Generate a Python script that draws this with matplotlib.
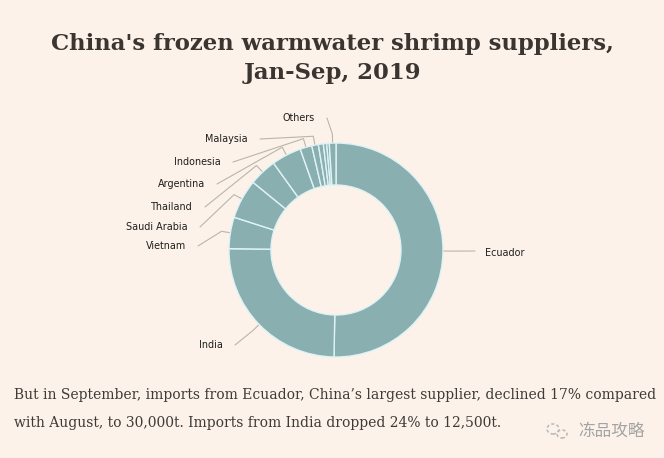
import matplotlib
matplotlib.use('Agg')
import matplotlib.pyplot as plt
from matplotlib.patches import Ellipse
import numpy as np

# ---- data (approx. share of imports %) ----
categories = ['Ecuador', 'India', 'Vietnam', 'Saudi Arabia', 'Thailand', 'Argentina',
              'Indonesia', 'Malaysia', '', '', '', 'Others']
shares = [50.3, 24.9, 4.75, 5.94, 4.19, 4.5, 1.78, 1.0, 0.75, 0.5, 0.39, 1.0]

title_lines = ["China's frozen warmwater shrimp suppliers,", "Jan-Sep, 2019"]
body_lines = ["But in September, imports from Ecuador, China\u2019s largest supplier, declined 17% compared",
              "with August, to 30,000t. Imports from India dropped 24% to 12,500t."]
watermark = '冻品攻略'

# ---- layout / style ----
W, H = 664, 458
BG = '#fcf2e9'
TEAL = '#89afb0'
SEP = '#dff3f6'
LINE = '#b9b6ad'

def Y(y):
    return H - y

# label line end points (pixel layout, y measured from top) and side
label_layout = {
    'Ecuador': (475, 251, 'right'),
    'India': (235, 345, 'left'),
    'Vietnam': (198, 246, 'left'),
    'Saudi Arabia': (200, 227, 'left'),
    'Thailand': (205, 207, 'left'),
    'Argentina': (217, 184, 'left'),
    'Indonesia': (233, 162, 'left'),
    'Malaysia': (260, 139, 'left'),
    'Others': (327, 118, 'left'),
}

fig = plt.figure(figsize=(W / 100, H / 100), dpi=100, facecolor=BG)
ax = fig.add_axes([0, 0, 1, 1])
ax.set_facecolor(BG)

cx, cy, R, ring = 336, Y(250), 107, 42
ax.pie(shares, radius=R, center=(cx, cy), startangle=90, counterclock=False,
       colors=[TEAL] * len(shares),
       wedgeprops=dict(width=ring, edgecolor=SEP, linewidth=1.0))

vals = np.array(shares, dtype=float)
start = np.concatenate([[0], np.cumsum(vals)[:-1]])
mid = (start + vals / 2) / vals.sum() * 2 * np.pi

for name, ang in zip(categories, mid):
    if not name:
        continue
    sx, sy = np.sin(ang), np.cos(ang)
    p0 = (cx + (R + 1) * sx, cy + (R + 1) * sy)
    p1 = (cx + (R + 9) * sx, cy + (R + 9) * sy)
    ex, ey, side = label_layout[name]
    ey = Y(ey)
    ax.plot([p0[0], p1[0], ex], [p0[1], p1[1], ey], color=LINE, lw=0.8,
            solid_capstyle='round', solid_joinstyle='round')
    if side == 'left':
        ax.text(ex - 12, ey, name, ha='right', va='center', fontsize=6.9,
                color='#1e1e1e', family='DejaVu Sans')
    else:
        ax.text(ex + 10, ey - 2, name, ha='left', va='center', fontsize=6.9,
                color='#1e1e1e', family='DejaVu Sans')

ax.set_xlim(0, W)
ax.set_ylim(0, H)
ax.set_aspect('auto')
ax.axis('off')

# title
ax.text(332, Y(44), title_lines[0], ha='center', va='center', fontsize=16.4,
        family='DejaVu Serif', weight='bold', color='#3a3531')
ax.text(332, Y(73), title_lines[1], ha='center', va='center', fontsize=16.4,
        family='DejaVu Serif', weight='bold', color='#3a3531')

# body text
ax.text(14, Y(395), body_lines[0], ha='left', va='center', fontsize=10.0,
        family='DejaVu Serif', color='#3e3a36')
ax.text(14, Y(423), body_lines[1], ha='left', va='center', fontsize=10.0,
        family='DejaVu Serif', color='#3e3a36')

# watermark
ax.add_patch(Ellipse((553, Y(429)), 12, 10, fill=False, ec='#b8b8b8', lw=1.1, ls=(0, (2, 1.5))))
ax.add_patch(Ellipse((562, Y(434)), 10, 8, fill=False, ec='#b8b8b8', lw=1.1, ls=(0, (2, 1.5))))
ax.text(578, Y(431), watermark, ha='left', va='center', fontsize=12,
        family=['Noto Sans CJK SC', 'DejaVu Sans'], color='#a3a3a3')

fig.savefig('out.png', dpi=100, facecolor=BG)
